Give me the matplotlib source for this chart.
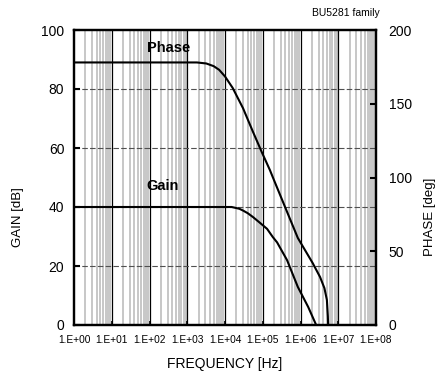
import matplotlib
matplotlib.use("Agg")
import matplotlib.pyplot as plt
import numpy as np
from matplotlib.ticker import FixedLocator, NullFormatter

plt.rcParams['font.family'] = ['Liberation Sans', 'DejaVu Sans']

# ---- data ----
gain_freq = [1, 1.5e4, 1.9e4, 2.4e4, 3.0e4, 4.0e4, 5.5e4, 8.5e4, 1.3e5, 1.85e5, 2.4e5, 4.4e5, 8.5e5, 1.6e6, 2.4e6, 2.6e6]
gain_db = [40, 40, 39.7, 39.4, 38.8, 37.9, 36.6, 34.6, 32.6, 29.8, 28.0, 22.0, 12.9, 6.1, 1.0, 0.0]

phase_freq = [1, 1.8e3, 3.2e3, 5.0e3, 7.0e3, 1.0e4, 1.6e4, 3.0e4, 5.5e4, 9.5e4, 1.55e5, 1.86e5, 3.9e5, 8.5e5, 2.1e6, 3.3e6, 4.3e6, 5.0e6, 5.3e6, 5.4e6]
phase_deg = [178, 178, 177.3, 175.5, 173, 168.5, 160.7, 147, 131, 117, 105, 100, 80, 59, 42, 32.5, 25, 17, 6, 0]

x_ticks = [1e0, 1e1, 1e2, 1e3, 1e4, 1e5, 1e6, 1e7, 1e8]
x_tick_labels = ['1.E+00', '1.E+01', '1.E+02', '1.E+03', '1.E+04', '1.E+05', '1.E+06', '1.E+07', '1.E+08']
gain_ticks = [0, 20, 40, 60, 80, 100]
phase_ticks = [0, 50, 100, 150, 200]

W, H = 438, 374
fig = plt.figure(figsize=(W / 100, H / 100), dpi=100)
ax = fig.add_axes([74 / W, 1 - 325 / H, 302 / W, 295 / H])
ax.set_xscale('log')
ax.set_xlim(1, 1e8)
ax.set_ylim(0, 100)

# minor gray verticals
minors = [m * 10 ** d for d in range(8) for m in range(2, 10)]
for xm in minors:
    ax.axvline(xm, color='#c0c0c0', lw=1.25, zorder=0.5)
# decade lines
for xd in x_ticks[1:-1]:
    ax.axvline(xd, color='black', lw=0.9, zorder=0.7)
# horizontal dashed grid
for yg in gain_ticks[1:-1]:
    ax.axhline(yg, color='#505050', lw=0.8, ls=(0, (5, 2)), zorder=0.8)

ax.plot(gain_freq, gain_db, color='black', lw=1.5, zorder=3)

ax.xaxis.set_major_locator(FixedLocator(x_ticks))
ax.set_xticklabels(x_tick_labels, fontsize=7.3)
ax.xaxis.set_minor_locator(FixedLocator([]))
ax.xaxis.set_minor_formatter(NullFormatter())
ax.set_yticks(gain_ticks)
ax.set_yticklabels([str(v) for v in gain_ticks], fontsize=10)
ax.tick_params(axis='x', direction='in', length=3, width=1.2, pad=7)
ax.tick_params(axis='y', direction='in', length=4, width=1.5, pad=7)
for s in ax.spines.values():
    s.set_linewidth(1.6)

ax2 = ax.twinx()
ax2.set_ylim(0, 200)
ax2.set_xlim(1, 1e8)
ax2.plot(phase_freq, phase_deg, color='black', lw=1.5, zorder=3)
ax2.set_yticks(phase_ticks)
ax2.set_yticklabels([str(v) for v in phase_ticks], fontsize=10)
ax2.tick_params(axis='y', direction='in', length=4, width=1.5, pad=9)
for s in ax2.spines.values():
    s.set_linewidth(1.6)

ax.text(85, 94.0, 'Phase', fontsize=10.5, fontweight='bold', ha='left', va='center')
ax.text(85, 47.0, 'Gain', fontsize=10.5, fontweight='bold', ha='left', va='center')

fig.text(380 / W, 1 - 13 / H, 'BU5281 family', fontsize=7.5, ha='right', va='center')
fig.text(18 / W, 1 - 217 / H, 'GAIN [dB]', fontsize=9.5, rotation=90, ha='center', va='center')
fig.text(430 / W, 1 - 217 / H, 'PHASE [deg]', fontsize=9.5, rotation=90, ha='center', va='center')
fig.text(225 / W, 1 - 364 / H, 'FREQUENCY [Hz]', fontsize=10, ha='center', va='center')

fig.savefig('out.png', dpi=100)
